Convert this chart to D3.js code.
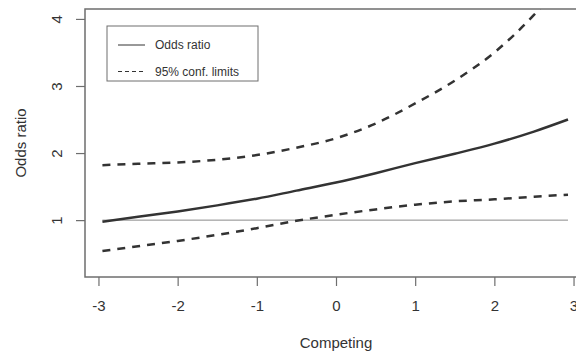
<!DOCTYPE html>
<html>
<head>
<meta charset="utf-8">
<script src="https://cdn.jsdelivr.net/npm/d3@7"></script>
<style>
  body { margin: 0; background: #fff; }
  text { font-family: "Liberation Sans", Arial, sans-serif; fill: #333; }
</style>
</head>
<body>
<svg width="576" height="354"></svg>
<script>
// values
var competing = [-2.95, -2.5, -2, -1.5, -1, -0.5, 0, 0.5, 1, 1.5, 2, 2.5, 2.93];
var oddsRatio = [0.975, 1.05, 1.13, 1.22, 1.32, 1.44, 1.56, 1.70, 1.85, 1.99, 2.14, 2.32, 2.50];
var upperCI   = [1.82, 1.84, 1.86, 1.90, 1.97, 2.08, 2.22, 2.44, 2.74, 3.08, 3.50, 4.06, 4.65];
var lowerCI   = [0.54, 0.61, 0.69, 0.78, 0.88, 0.99, 1.08, 1.16, 1.23, 1.28, 1.31, 1.35, 1.38];
var xTicks = [-3, -2, -1, 0, 1, 2, 3];
var yTicks = [1, 2, 3, 4];
var legendLabels = ["Odds ratio", "95% conf. limits"];

var svg = d3.select("svg");
var plotL = 85, plotR = 587, plotT = 9, plotB = 277;

var x = d3.scaleLinear().domain([-3.17, 3.17]).range([plotL, plotR]);
var y = d3.scaleLinear().domain([0.152, 4.148]).range([plotB, plotT]);

svg.append("defs").append("clipPath").attr("id", "plotclip")
  .append("rect").attr("x", plotL).attr("y", plotT)
  .attr("width", plotR - plotL).attr("height", plotB - plotT);

var plot = svg.append("g").attr("clip-path", "url(#plotclip)");

// reference line at 1
plot.append("line")
  .attr("x1", x(competing[0])).attr("x2", x(competing[competing.length - 1]))
  .attr("y1", y(1)).attr("y2", y(1))
  .attr("stroke", "#8a8a8a").attr("stroke-width", 1);

var line = d3.line().curve(d3.curveMonotoneX);
function pts(vals) { return competing.map(function(c, i) { return [x(c), y(vals[i])]; }); }

plot.append("path").attr("d", line(pts(oddsRatio)))
  .attr("fill", "none").attr("stroke", "#333").attr("stroke-width", 2.5);

[upperCI, lowerCI].forEach(function(v) {
  plot.append("path").attr("d", line(pts(v)))
    .attr("fill", "none").attr("stroke", "#333").attr("stroke-width", 2.5)
    .attr("stroke-dasharray", "8,7");
});

// box
svg.append("rect").attr("x", plotL).attr("y", plotT)
  .attr("width", plotR - plotL).attr("height", plotB - plotT)
  .attr("fill", "none").attr("stroke", "#6e6e6e").attr("stroke-width", 1.5);

// axes
var fmt = function(d) { return String(d); };
var xAxis = svg.append("g").attr("transform", "translate(0," + plotB + ")")
  .call(d3.axisBottom(x).tickValues(xTicks).tickSize(9).tickPadding(14).tickFormat(fmt));
xAxis.select(".domain").remove();
xAxis.selectAll("line").attr("stroke", "#6e6e6e").attr("stroke-width", 1.2);
xAxis.selectAll("text").attr("font-size", 15).style("fill", "#333");

var yAxis = svg.append("g").attr("transform", "translate(" + plotL + ",0)")
  .call(d3.axisLeft(y).tickValues(yTicks).tickSize(9).tickFormat(fmt));
yAxis.select(".domain").remove();
yAxis.selectAll("line").attr("stroke", "#6e6e6e").attr("stroke-width", 1.2);
yAxis.selectAll("text")
  .attr("x", null)
  .attr("text-anchor", "middle")
  .attr("transform", "translate(-28,0) rotate(-90)")
  .attr("dy", "0.35em")
  .attr("font-size", 15).style("fill", "#333");

// axis titles
svg.append("text").attr("x", x(0)).attr("y", 348)
  .attr("text-anchor", "middle").attr("font-size", 15).text("Competing");
svg.append("text").attr("transform", "translate(21," + ((plotT + plotB) / 2) + ") rotate(-90)")
  .attr("text-anchor", "middle").attr("dy", "0.35em").attr("font-size", 15).text("Odds ratio");

// legend
var lg = svg.append("g");
lg.append("rect").attr("x", 107).attr("y", 26).attr("width", 151).attr("height", 55)
  .attr("fill", "#fff").attr("stroke", "#6e6e6e").attr("stroke-width", 1);
legendLabels.forEach(function(t, i) {
  var yy = 45 + i * 26.5;
  lg.append("line").attr("x1", 118).attr("x2", 145).attr("y1", yy).attr("y2", yy)
    .attr("stroke", "#333").attr("stroke-width", 1)
    .attr("stroke-dasharray", i === 1 ? "4,3" : null);
  lg.append("text").attr("x", 155).attr("y", yy).attr("dy", "0.35em")
    .attr("font-size", 12).text(t);
});
</script>
</body>
</html>
